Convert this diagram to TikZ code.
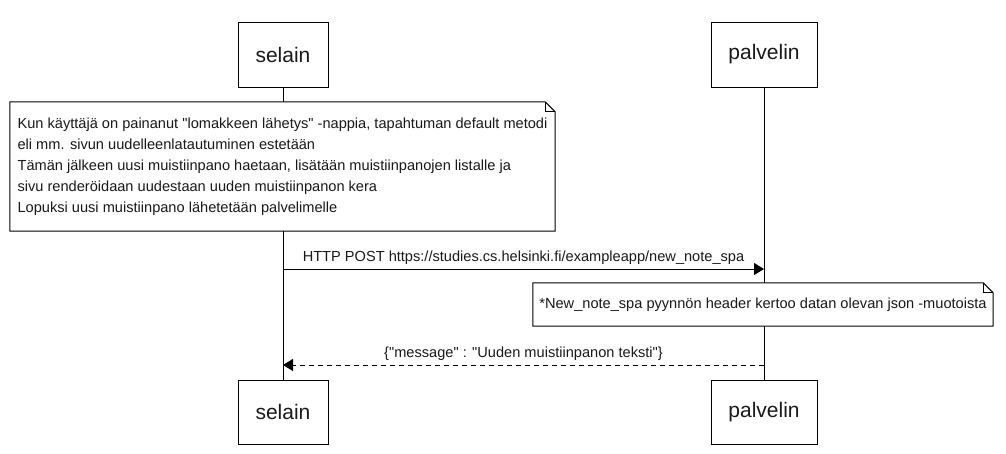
\documentclass[tikz,border=0pt]{standalone}
\usepackage{fontspec}
\setmainfont{Liberation Sans}[Ligatures=TeXOff]
\usetikzlibrary{arrows.meta}
\newcommand\mynotefold[1]{%
  \draw[line width=1pt] (#1.south west) -- (#1.north west) -- ([xshift=-10pt]#1.north east)
    -- ([yshift=-10pt]#1.north east) -- (#1.south east) -- cycle;
  \draw[line width=1pt] ([xshift=-10pt]#1.north east) -- ([xshift=-10pt,yshift=-10pt]#1.north east)
    -- ([yshift=-10pt]#1.north east);}
\begin{document}
\begin{tikzpicture}[x=1pt,y=-1pt,
  actor/.style={draw, line width=1pt, fill=white, minimum height=65pt, inner sep=0pt,
    text=black!90, font=\fontsize{21}{25}\selectfont},
  notebox/.style={fill=white, inner sep=0pt, text=black!90, align=left,
    font=\fontsize{14.6}{21}\selectfont},
  lbl/.style={inner sep=0pt, text=black!90, font=\fontsize{14.6}{18}\selectfont},
  life/.style={line width=1pt},
  msg/.style={line width=1pt, -{Triangle[length=10pt,width=12pt]}},
  reply/.style={msg, dash pattern=on 5.5pt off 3.5pt},
]
\useasboundingbox (0,0) rectangle (1006,453);
\node[actor, minimum width=90pt] (selainTop) at (283,54.5) {selain};
\node[actor, minimum width=106pt] (palvelinTop) at (764,54.5) {palvelin};
\node[actor, minimum width=90pt, minimum height=64pt] (selainBot) at (283,412) {selain};
\node[actor, minimum width=106pt, minimum height=64pt] (palvelinBot) at (764,412) {palvelin};
\draw[life] (selainTop.south) -- (selainBot.north);
\draw[life] (palvelinTop.south) -- (palvelinBot.north);
% note 1
\node[notebox, minimum width=545pt, minimum height=129pt] (note1) at (282.5,166.5)
  {\raisebox{0pt}[0pt][0pt]{}Kun käyttäjä on painanut "lomakkeen lähetys" -nappia, tapahtuman default metodi\\
   eli mm. sivun uudelleenlatautuminen estetään\\
   Tämän jälkeen uusi muistiinpano haetaan, lisätään muistiinpanojen listalle ja\\
   sivu renderöidaan uudestaan uuden muistiinpanon kera\\
   Lopuksi uusi muistiinpano lähetetään palvelimelle};
\mynotefold{note1}
% message 1
\coordinate (m1s) at (selainTop.south |- 0,269);
\coordinate (m1p) at (palvelinTop.south |- 0,269);
\draw[msg] (m1s) -- node[lbl, above=4pt] (lab1) {HTTP POST https://studies.cs.helsinki.fi/exampleapp/new\_note\_spa} (m1p);
% note 2
\node[notebox, minimum width=460pt, minimum height=43pt] (note2) at (763,304.5)
  {*New\_note\_spa pyynnön header kertoo datan olevan json -muotoista};
\mynotefold{note2}
% reply
\coordinate (m2p) at (palvelinTop.south |- 0,365);
\coordinate (m2s) at (selainTop.south |- 0,365);
\draw[reply] (m2p) -- node[lbl, above=4pt] (lab2) {\{"message" : "Uuden muistiinpanon teksti"\}} (m2s);
\end{tikzpicture}
\end{document}
